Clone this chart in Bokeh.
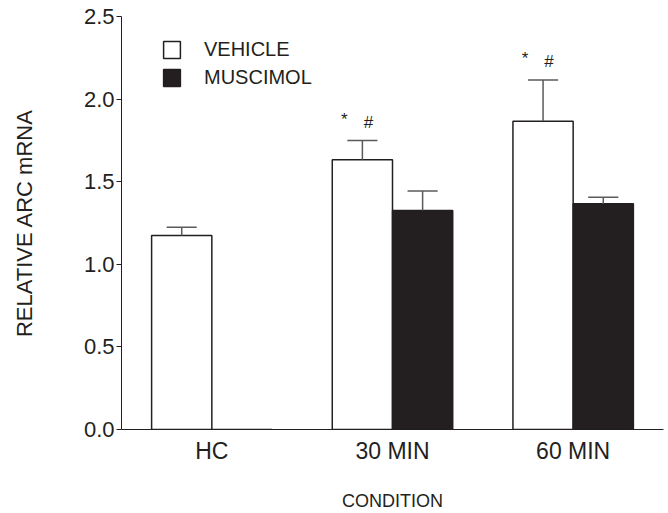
from bokeh.plotting import figure
from bokeh.models import Range1d, FixedTicker, Legend, LegendItem, ColumnDataSource
from bokeh.embed import file_html
from bokeh.resources import INLINE

categories = ["HC", "30 MIN", "60 MIN"]
vehicle = [1.174, 1.633, 1.866]
vehicle_err = [0.05, 0.116, 0.25]
muscimol = [0.0, 1.326, 1.366]
muscimol_err = [0.0, 0.117, 0.04]
sig_star = ["", "*", "*"]
sig_hash = ["", "#", "#"]
y_ticks = [0.0, 0.5, 1.0, 1.5, 2.0, 2.5]

FONT = "Liberation Sans"
INK = "#231f20"
BW = 1.0 / 3.0

centers = [i + 1 for i in range(len(categories))]
veh_x = [c - BW / 2 for c in centers]
mus_x = [c + BW / 2 for c in centers]

p = figure(width=668, height=513, output_backend="svg", toolbar_location=None,
           x_range=Range1d(0.5, 3.5), y_range=Range1d(0, 2.5),
           min_border_left=121, min_border_right=5, min_border_top=16, min_border_bottom=84)
p.outline_line_color = None
p.grid.visible = False
p.background_fill_color = "white"

veh_src = ColumnDataSource(dict(x=veh_x, top=vehicle))
mus_src = ColumnDataSource(dict(x=mus_x, top=muscimol))
r_veh = p.vbar(x="x", top="top", bottom=0, width=BW, source=veh_src,
               fill_color="white", line_color=INK, line_width=1.5)
r_mus = p.vbar(x="x", top="top", bottom=0, width=BW, source=mus_src,
               fill_color=INK, line_color=INK, line_width=1.5)

# error bars (upper only)
ERR = "#5a5a5c"
for xs, vals, errs in ((veh_x, vehicle, vehicle_err), (mus_x, muscimol, muscimol_err)):
    ex, et, eb = [], [], []
    for x, v, e in zip(xs, vals, errs):
        if e > 0:
            ex.append(x); eb.append(v); et.append(v + e)
    p.segment(x0=ex, x1=ex, y0=eb, y1=et, line_color=ERR, line_width=1.5)
    p.segment(x0=[x - BW / 4 for x in ex], x1=[x + BW / 4 for x in ex], y0=et, y1=et,
              line_color=ERR, line_width=1.5)

# significance marks
sx, sy, st = [], [], []
hx, hy, ht = [], [], []
for c, v, e, s, h in zip(centers, vehicle, vehicle_err, sig_star, sig_hash):
    if s:
        sx.append(c - BW * 0.8); sy.append(v + e + 0.13); st.append(s)
    if h:
        hx.append(c - BW * 0.4); hy.append(v + e + 0.11); ht.append(h)
p.text(x=sx, y=sy, text=st, text_font={"value": FONT}, text_font_size="17px",
       text_align="center", text_baseline="middle", text_color=INK)
p.text(x=hx, y=hy, text=ht, text_font={"value": FONT}, text_font_size="17px",
       text_align="center", text_baseline="middle", text_color=INK)

# axes
p.yaxis.ticker = FixedTicker(ticks=y_ticks)
p.yaxis.major_label_overrides = {t: f"{t:.1f}" for t in y_ticks}
p.yaxis.major_tick_out = 5
p.yaxis.major_tick_in = 0
p.yaxis.minor_tick_line_color = None
p.yaxis.axis_line_color = INK
p.yaxis.major_tick_line_color = INK
p.yaxis.major_label_text_font = FONT
p.yaxis.major_label_text_font_size = "22px"
p.yaxis.major_label_text_color = INK
p.yaxis.major_label_standoff = 2
p.yaxis.axis_label = "RELATIVE ARC mRNA"
p.yaxis.axis_label_text_font = FONT
p.yaxis.axis_label_text_font_size = "22px"
p.yaxis.axis_label_text_font_style = "normal"
p.yaxis.axis_label_text_color = INK
p.yaxis.axis_label_standoff = 44

p.xaxis.ticker = FixedTicker(ticks=centers)
p.xaxis.major_label_overrides = {c: n for c, n in zip(centers, categories)}
p.xaxis.major_tick_out = 0
p.xaxis.major_tick_in = 0
p.xaxis.minor_tick_line_color = None
p.xaxis.axis_line_color = INK
p.xaxis.major_label_text_font = FONT
p.xaxis.major_label_text_font_size = "23px"
p.xaxis.major_label_text_color = INK
p.xaxis.major_label_standoff = 8
p.xaxis.axis_label = "CONDITION"
p.xaxis.axis_label_text_font = FONT
p.xaxis.axis_label_text_font_size = "18px"
p.xaxis.axis_label_text_font_style = "normal"
p.xaxis.axis_label_text_color = INK
p.xaxis.axis_label_standoff = 24

legend = Legend(items=[LegendItem(label="VEHICLE", renderers=[r_veh]),
                       LegendItem(label="MUSCIMOL", renderers=[r_mus])],
                location=(40, 340))
legend.glyph_width = 21
legend.glyph_height = 21
legend.label_standoff = 22
legend.spacing = 5
legend.padding = 0
legend.margin = 0
legend.border_line_color = None
legend.background_fill_alpha = 0
legend.label_text_font = FONT
legend.label_text_font_size = "20px"
legend.label_text_color = INK
legend.label_height = 21
p.add_layout(legend)

open("out.html", "w").write(file_html(p, INLINE))
